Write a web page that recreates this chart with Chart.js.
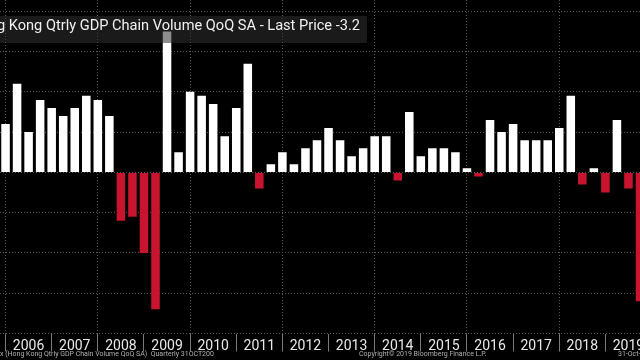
<!DOCTYPE html>
<html>
<head>
<meta charset="utf-8">
<script src="https://cdn.jsdelivr.net/npm/chart.js@4.4.0/dist/chart.umd.min.js"></script>
<style>
  html, body { margin: 0; padding: 0; background: #000; overflow: hidden; }
  #wrap { position: relative; width: 640px; height: 360px; overflow: hidden; }
  #chart { position: absolute; left: 0; top: 0; }
  .title {
    position: absolute; right: 273px; top: 16px; height: 27px; line-height: 27px;
    padding: 0 7px 0 8px; background: rgba(47, 47, 47, 0.55); color: #f0f0f0;
    font: 14.6px Roboto, sans-serif; white-space: nowrap;
  }
  .foot { position: absolute; top: 350px; font: 7px Roboto, sans-serif; color: #b0b0b0; white-space: nowrap; }
  .clip { overflow: hidden; }
</style>
</head>
<body>
<div id="wrap">
  <canvas id="chart" width="640" height="360"></canvas>
  <div class="title">Hong Kong Qtrly GDP Chain Volume QoQ SA - Last Price -3.2</div>
  <div class="foot clip" style="left:0;width:214px">x (Hong Kong Qtrly GDP Chain Volume QoQ SA)&nbsp; Quarterly 31OCT2004-31OCT2019</div>
  <div class="foot" style="left:359px">Copyright© 2019 Bloomberg Finance L.P.</div>
  <div class="foot" style="left:618px">31-Oct-2019</div>
</div>
<script>
/* ── Data ─────────────────────────────────────────────────────────────── */
const periods = [
  '2005Q4',
  '2006Q1', '2006Q2', '2006Q3', '2006Q4',
  '2007Q1', '2007Q2', '2007Q3', '2007Q4',
  '2008Q1', '2008Q2', '2008Q3', '2008Q4',
  '2009Q1', '2009Q2', '2009Q3', '2009Q4',
  '2010Q1', '2010Q2', '2010Q3', '2010Q4',
  '2011Q1', '2011Q2', '2011Q3', '2011Q4',
  '2012Q1', '2012Q2', '2012Q3', '2012Q4',
  '2013Q1', '2013Q2', '2013Q3', '2013Q4',
  '2014Q1', '2014Q2', '2014Q3', '2014Q4',
  '2015Q1', '2015Q2', '2015Q3', '2015Q4',
  '2016Q1', '2016Q2', '2016Q3', '2016Q4',
  '2017Q1', '2017Q2', '2017Q3', '2017Q4',
  '2018Q1', '2018Q2', '2018Q3', '2018Q4',
  '2019Q1', '2019Q2', '2019Q3',
];
const gdpQoq = [
  1.2,
  2.2, 1.0, 1.8, 1.6,
  1.4, 1.6, 1.9, 1.8,
  1.4, -1.2, -1.1, -2.0,
  -3.4, 3.5, 0.5, 2.0,
  1.9, 1.7, 0.9, 1.6,
  2.7, -0.4, 0.2, 0.5,
  0.2, 0.6, 0.8, 1.1,
  0.8, 0.4, 0.6, 0.9,
  0.9, -0.2, 1.5, 0.4,
  0.6, 0.6, 0.5, 0.1,
  -0.1, 1.3, 1.0, 1.2,
  0.8, 0.8, 0.8, 1.1,
  1.9, -0.3, 0.1, -0.5,
  1.3, -0.4, -3.2,
];
const yearLabels = ['2006', '2007', '2008', '2009', '2010', '2011', '2012',
                    '2013', '2014', '2015', '2016', '2017', '2018', '2019'];
const yTicks = [-4, -3, -2, -1, 0, 1, 2, 3, 4];

const POS = '#ffffff';
const NEG = '#c8142f';
const GRID = '#585858';

// quarter-end position on a year axis: 2005Q4 -> 2006.0
function periodToX(p) {
  return parseInt(p.slice(0, 4)) + parseInt(p.slice(5)) * 0.25;
}

const points = periods.map((p, i) => ({ x: periodToX(p), y: gdpQoq[i] }));

/* ── Chart ────────────────────────────────────────────────────────────── */
new Chart(document.getElementById('chart'), {
  type: 'bar',
  data: {
    datasets: [{
      data: points,
      backgroundColor: c => (c.raw && c.raw.y < 0 ? NEG : POS),
      borderWidth: 0,
      categoryPercentage: 1,
      barPercentage: 0.74,
    }],
  },
  options: {
    responsive: false,
    animation: false,
    layout: { padding: 0 },
    plugins: { legend: { display: false }, tooltip: { enabled: false } },
    scales: {
      x: {
        type: 'linear',
        offset: false,
        min: 2005.88,
        max: 2019.75,
        afterBuildTicks: s => {
          s.ticks = yearLabels.flatMap(y => [{ value: +y }, { value: +y + 0.5 }]);
        },
        afterFit: s => {
          s.height = 26.5;
          s.paddingLeft = 0;
          s.paddingRight = 0;
        },
        ticks: {
          autoSkip: false, maxRotation: 0, minRotation: 0,
          padding: -13,
          color: '#e8e8e8',
          font: { family: 'Roboto, sans-serif', size: 14 },
          callback: v => (Number.isInteger(v) ? '' : String(Math.floor(v))),
        },
        grid: {
          offset: false,
          color: c => (c.tick && Number.isInteger(c.tick.value) && c.tick.value % 2 === 0 ? GRID : 'transparent'),
          tickColor: c => (c.tick && Number.isInteger(c.tick.value) ? '#7a7a7a' : 'transparent'),
          tickLength: 18,
          tickBorderDash: [],
        },
        border: { display: false, dash: [1, 2] },
      },
      y: {
        min: -4,
        max: 4.28,
        afterBuildTicks: s => { s.ticks = yTicks.map(v => ({ value: v })); },
        afterFit: s => {
          s.width = 0;
          s.paddingTop = 0;
          s.paddingBottom = 0;
        },
        ticks: { display: false },
        grid: { color: GRID, drawTicks: false },
        border: { display: false, dash: [1, 2] },
      },
    },
  },
});
</script>
</body>
</html>
